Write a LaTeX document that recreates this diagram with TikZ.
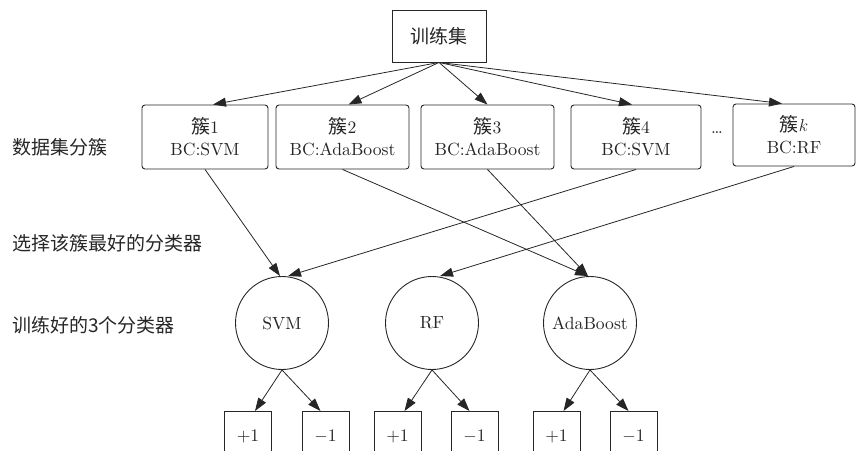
\documentclass[tikz,border=0pt]{standalone}
\usepackage{fontspec}
\setmainfont{lmroman10-regular}[Extension=.otf, BoldFont=lmroman10-bold, ItalicFont=lmroman10-italic]
\newfontfamily\cjk[Scale=1.08]{Noto Sans CJK SC}
\usetikzlibrary{arrows.meta,calc}
\definecolor{ink}{HTML}{262626}
\begin{document}
\begin{tikzpicture}[x=1pt,y=-1pt,
  every node/.style={font=\fontsize{17.6}{22}\selectfont, text=ink},
  topbox/.style={draw=ink, line width=0.9pt, minimum width=94pt, minimum height=52pt, inner sep=0pt},
  clbox/.style={draw=ink, line width=0.9pt, rounded corners=3pt, minimum height=64pt, inner sep=0pt, align=center},
  clf/.style={draw=ink, line width=0.9pt, circle, minimum size=93pt, inner sep=0pt},
  outbox/.style={draw=ink, line width=0.9pt, minimum width=47pt, minimum height=50pt, inner sep=0pt, anchor=north},
  lbl/.style={anchor=west, inner sep=0pt},
  arr/.style={draw=ink, line width=0.8pt, -{Triangle[length=13pt,width=9pt]}}
]
\clip (0,0) rectangle (856,450);
\node[topbox] (t) at (439,36) {\cjk 训练集};
\node[clbox, minimum width=126pt] (c1) at (205,137) {{\cjk 簇}1\\[0pt]BC:SVM};
\node[clbox, minimum width=133pt] (c2) at (342.5,137) {{\cjk 簇}2\\[0pt]BC:AdaBoost};
\node[clbox, minimum width=133pt] (c3) at (487.5,137) {{\cjk 簇}3\\[0pt]BC:AdaBoost};
\node[clbox, minimum width=130pt] (c4) at (636,137) {{\cjk 簇}4\\[0pt]BC:SVM};
\node[clbox, minimum width=122pt, minimum height=62pt] (ck) at (794,135) {{\cjk 簇}$k$\\[0pt]BC:RF};
\node (dots) at (717,133) {\ldots};

\node[lbl] (l1) at (12,147) {\cjk 数据集分簇};
\node[lbl] (l2) at (12,243) {\cjk 选择该簇最好的分类器};
\node[lbl] (l3) at (12,325) {\cjk 训练好的3个分类器};

\node[clf] (svm) at (282,323) {SVM};
\node[clf] (rf) at (432,323) {RF};
\node[clf] (ada) at (590,323) {AdaBoost};

\node[outbox] (p1) at (248,411) {+1};
\node[outbox] (m1) at (325.5,411) {$-$1};
\node[outbox] (p2) at (397.5,411) {+1};
\node[outbox] (m2) at (474.5,411) {$-$1};
\node[outbox] (p3) at (556.5,411) {+1};
\node[outbox] (m3) at (633.5,411) {$-$1};

% from training set
\draw[arr] (t.south) -- ([xshift=8pt]c1.north);
\draw[arr] (t.south) -- ([xshift=6pt]c2.north);
\draw[arr] (t.south) -- (c3.north);
\draw[arr] (t.south) -- ([xshift=-4pt]c4.north);
\draw[arr] (t.south) -- ([xshift=-12pt]ck.north);

% best classifier selection
\draw[arr] (c1.south) -- ([xshift=-2pt]svm.north);
\draw[arr] (c4.south) -- ([xshift=6pt]svm.north);
\draw[arr] (ck.south) -- ([xshift=8pt]rf.north);
\draw[arr] (c2.south) -- ([xshift=-2pt]ada.north);
\draw[arr] (c3.south) -- ([xshift=-2pt]ada.north);

% outputs
\draw[arr] (svm.south) -- ([xshift=7pt]p1.north);
\draw[arr] (svm.south) -- ([xshift=-5pt]m1.north);
\draw[arr] (rf.south) -- ([xshift=7pt]p2.north);
\draw[arr] (rf.south) -- ([xshift=-5pt]m2.north);
\draw[arr] (ada.south) -- ([xshift=7pt]p3.north);
\draw[arr] (ada.south) -- ([xshift=-5pt]m3.north);
\end{tikzpicture}
\end{document}
